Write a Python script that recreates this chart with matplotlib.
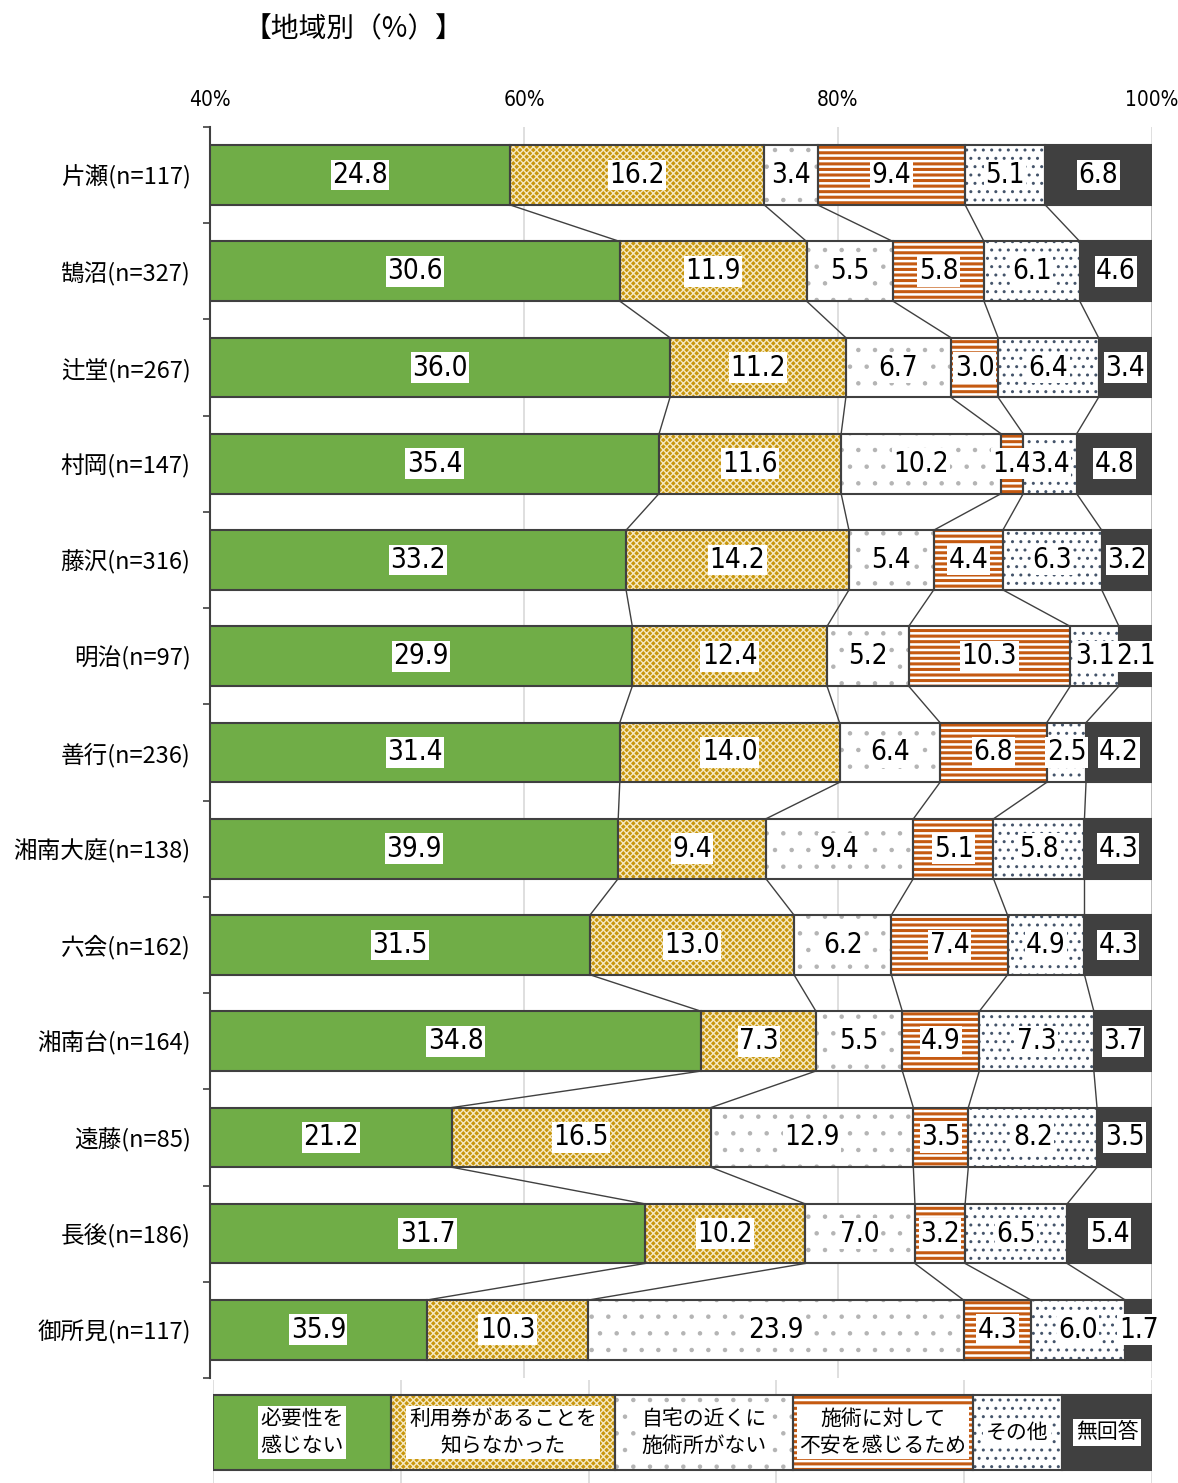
import numpy as np
import matplotlib
matplotlib.use("Agg")
import matplotlib.pyplot as plt

plt.rcParams['font.family'] = ['Noto Sans CJK JP', 'DejaVu Sans']
plt.rcParams['hatch.linewidth'] = 1.0

regions = ["片瀬(n=117)", "鵠沼(n=327)", "辻堂(n=267)", "村岡(n=147)", "藤沢(n=316)",
           "明治(n=97)", "善行(n=236)", "湘南大庭(n=138)", "六会(n=162)", "湘南台(n=164)",
           "遠藤(n=85)", "長後(n=186)", "御所見(n=117)"]

answers = ["必要性を\n感じない", "利用券があることを\n知らなかった", "自宅の近くに\n施術所がない",
           "施術に対して\n不安を感じるため", "その他", "無回答"]

no_need      = [24.8, 30.6, 36.0, 35.4, 33.2, 29.9, 31.4, 39.9, 31.5, 34.8, 21.2, 31.7, 35.9]
didnt_know   = [16.2, 11.9, 11.2, 11.6, 14.2, 12.4, 14.0, 9.4, 13.0, 7.3, 16.5, 10.2, 10.3]
no_clinic    = [3.4, 5.5, 6.7, 10.2, 5.4, 5.2, 6.4, 9.4, 6.2, 5.5, 12.9, 7.0, 23.9]
anxious      = [9.4, 5.8, 3.0, 1.4, 4.4, 10.3, 6.8, 5.1, 7.4, 4.9, 3.5, 3.2, 4.3]
other        = [5.1, 6.1, 6.4, 3.4, 6.3, 3.1, 2.5, 5.8, 4.9, 7.3, 8.2, 6.5, 6.0]
no_answer    = [6.8, 4.6, 3.4, 4.8, 3.2, 2.1, 4.2, 4.3, 4.3, 3.7, 3.5, 5.4, 1.7]

# face colour, hatch, hatch colour, hatch width
styles = [
    ('#70AD47', None, None, None),
    ('#C8960C', 'xxxxx', '#F5E8C0', 1.0),
    ('white', '.', '#B4B4B4', 0.8),
    ('white', '---', '#C55A11', 2.2),
    ('white', '..', '#44546A', 1.0),
    ('#404040', None, None, None),
]
legend_widths = [178, 224, 178, 180, 89, 90]  # px, legend strip layout

EDGE = '#404040'
num_font = dict(family=['DejaVu Sans'], fontstretch='condensed')

data = np.array([no_need, didnt_know, no_clinic, anxious, other, no_answer])
# anything not shown (other answers) sits left of 40% and is cut off
lefts = 100 - np.cumsum(data[::-1], axis=0)[::-1]
rights = lefts + data
y = np.arange(len(regions))

fig = plt.figure(figsize=(11.78, 14.83), dpi=100)
ax = fig.add_axes([0.1783, 0.0708, 0.7996, 0.8436])

def draw_seg(ax, yy, w, l, style, h):
    fc, hatch, hc, hlw = style
    if hatch:
        bars = ax.barh(yy, w, left=l, height=h, color=fc, hatch=hatch, edgecolor=hc,
                       lw=0, zorder=2)
        for b in bars:
            if hasattr(b, 'set_hatch_linewidth'):
                b.set_hatch_linewidth(hlw)
    else:
        ax.barh(yy, w, left=l, height=h, color=fc, lw=0, zorder=2)
    ax.barh(yy, w, left=l, height=h, fill=False, edgecolor=EDGE, lw=1.5, zorder=3)

H = 0.62
for j in range(6):
    draw_seg(ax, y, data[j], lefts[j], styles[j], H)
    for i in range(len(regions)):
        x0 = max(lefts[j][i], 40)
        xc = (x0 + rights[j][i]) / 2
        ax.text(xc, y[i], f"{data[j][i]:.1f}", ha='center', va='center', fontsize=20,
                zorder=6, bbox=dict(fc='white', ec='none', pad=1), **num_font)

# series lines between neighbouring bars
for j in range(6):
    for i in range(len(regions) - 1):
        ax.plot([rights[j][i], rights[j][i + 1]], [y[i] + H / 2, y[i + 1] - H / 2],
                color=EDGE, lw=1, zorder=1.5)

ax.set_xlim(40, 100)
ax.set_ylim(len(regions) - 0.5, -0.5)
ax.set_xticks([40, 60, 80, 100])
ax.set_xticklabels(['40%', '60%', '80%', '100%'], fontsize=15, **num_font)
ax.xaxis.tick_top()
ax.tick_params(axis='x', length=0, pad=12)
ax.grid(axis='x', color='#D9D9D9', lw=1.2)
ax.set_axisbelow(True)
ax.set_yticks(y)
ax.set_yticklabels(regions, fontsize=17)
ax.set_yticks(np.arange(-0.5, len(regions)), minor=True)
ax.tick_params(axis='y', which='major', length=0, pad=14)
ax.tick_params(axis='y', which='minor', length=5, color=EDGE, width=1.2)
for s in ['top', 'right', 'bottom']:
    ax.spines[s].set_visible(False)
ax.spines['left'].set_color(EDGE)
ax.spines['left'].set_linewidth(1.5)

# legend strip
lax = fig.add_axes([0.1808, 0.0, 0.7971, 0.0695])
lax.set_xlim(0, sum(legend_widths))
lax.set_ylim(0, 103)
for gx in np.linspace(0, sum(legend_widths), 6):
    lax.axvline(gx, color='#D9D9D9', lw=1.2, zorder=0)
lx = 0
for j, w in enumerate(legend_widths):
    draw_seg(lax, 50.5, w, lx, styles[j], 75)
    lax.text(lx + w / 2, 50.5, answers[j], ha='center', va='center', fontsize=15,
             linespacing=1.25, zorder=6, bbox=dict(fc='white', ec='none', pad=2))
    lx += w
lax.axis('off')

fig.text(0.2997, 0.980, '【地域別（%）】', ha='center', va='center', fontsize=20)

fig.savefig('out.png', dpi=100)
